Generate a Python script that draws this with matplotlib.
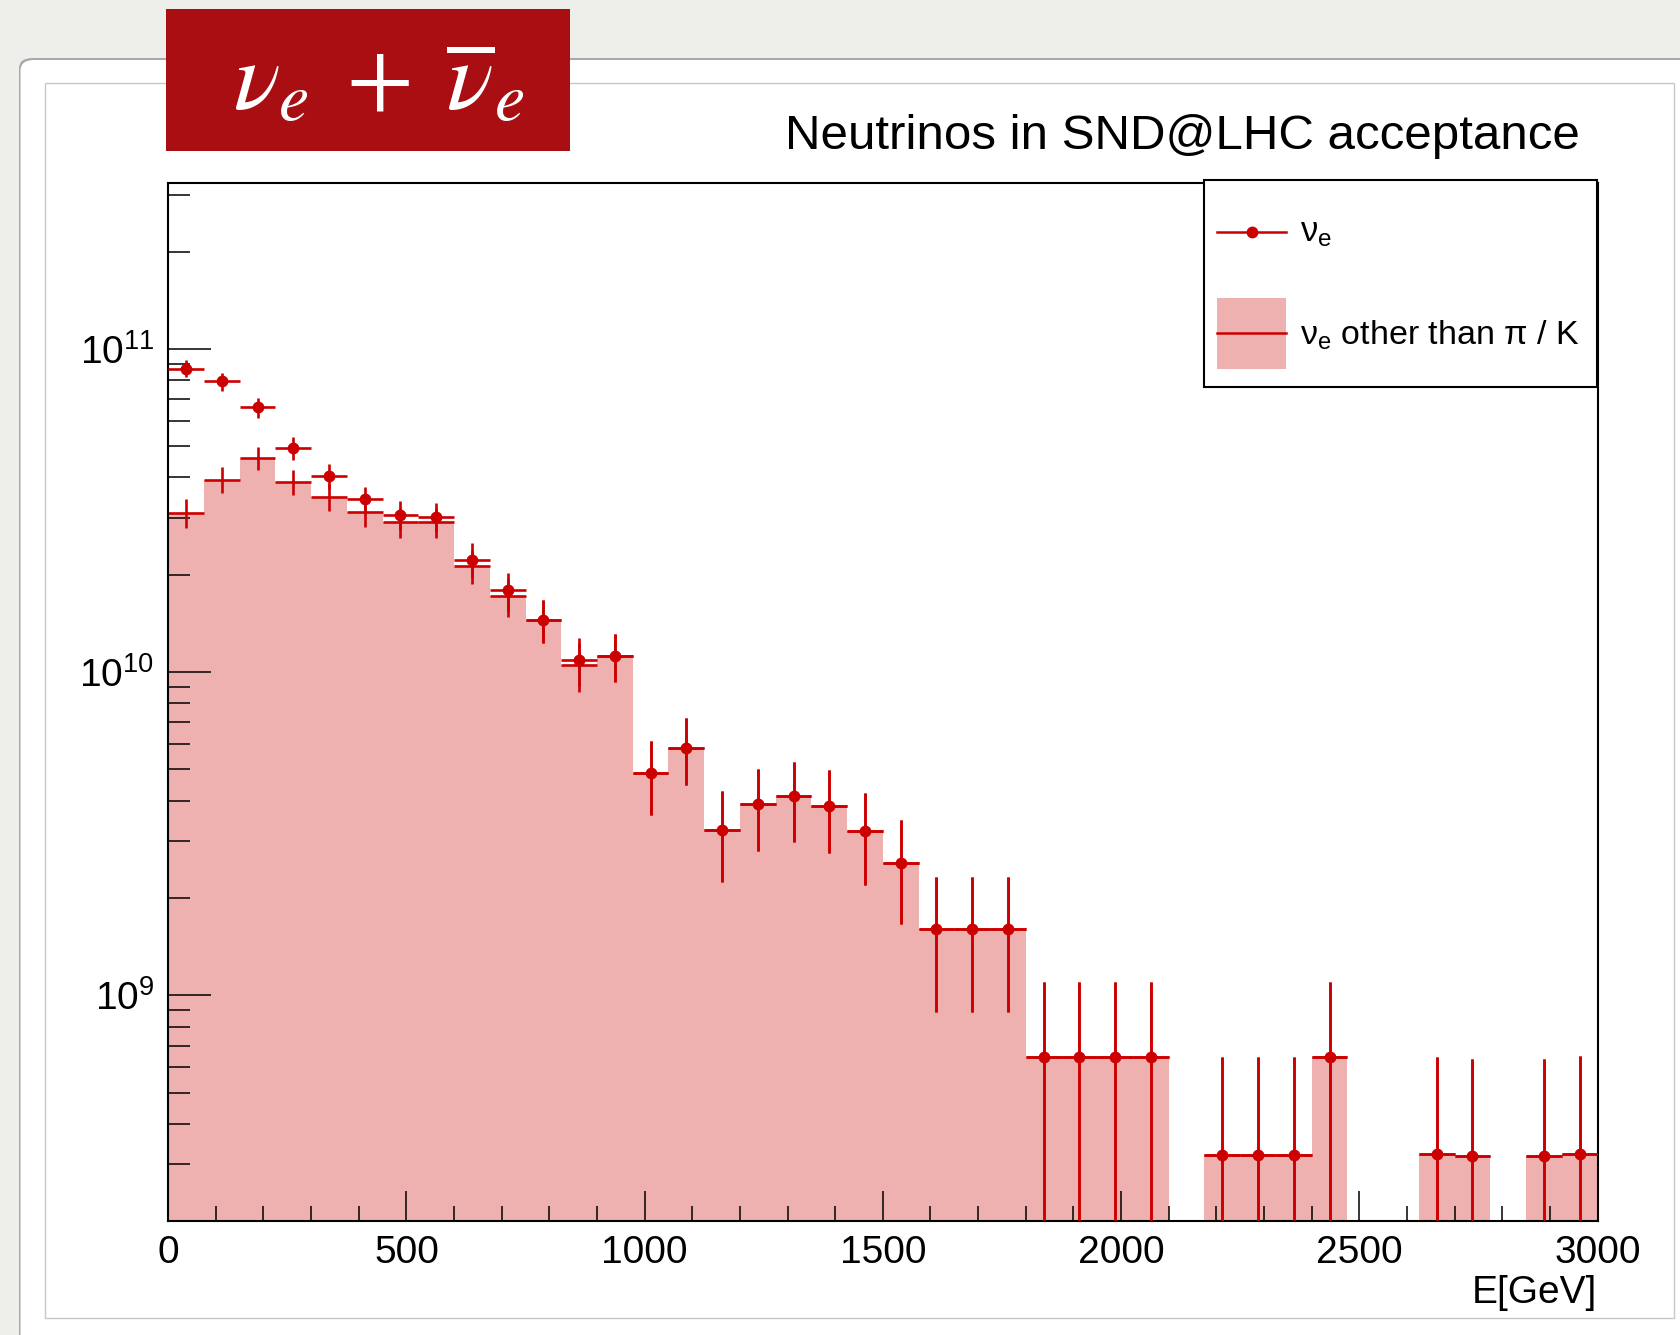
import numpy as np
import matplotlib
matplotlib.use("Agg")
import matplotlib.pyplot as plt
from matplotlib.patches import Rectangle, FancyBboxPatch
from matplotlib.lines import Line2D
from matplotlib.ticker import FixedLocator, MultipleLocator, LogLocator, NullFormatter, LogFormatterSciNotation

plt.rcParams['font.family'] = ['Liberation Sans', 'DejaVu Sans']
plt.rcParams['mathtext.fontset'] = 'custom'
plt.rcParams['mathtext.rm'] = 'Liberation Sans'
plt.rcParams['mathtext.it'] = 'Liberation Sans:italic'
plt.rcParams['mathtext.bf'] = 'Liberation Sans:bold'

# ---------------- data ----------------
bin_edges = np.arange(0, 3001, 75)  # 40 bins of 75 GeV

nu_e_total = [8.69e10, 7.93e10, 6.59e10, 4.93e10, 4.05e10, 3.42e10, 3.07e10, 3.02e10, 2.23e10, 1.79e10,
              1.45e10, 1.09e10, 1.12e10, 4.86e9, 5.84e9, 3.26e9, 3.91e9, 4.14e9, 3.86e9, 3.22e9,
              2.57e9, 1.61e9, 1.61e9, 1.61e9, 6.45e8, 6.45e8, 6.45e8, 6.45e8, 0.0, 3.22e8,
              3.22e8, 3.22e8, 6.45e8, 0.0, 0.0, 3.23e8, 3.19e8, 0.0, 3.19e8, 3.24e8]
nu_e_total_err = [5.3e9, 5.05e9, 4.6e9, 4.0e9, 3.6e9, 3.3e9, 3.15e9, 3.1e9, 2.7e9, 2.4e9,
                  2.16e9, 1.87e9, 1.9e9, 1.25e9, 1.37e9, 1.02e9, 1.12e9, 1.15e9, 1.11e9, 1.02e9,
                  0.91e9, 0.72e9, 0.72e9, 0.72e9, 4.55e8, 4.55e8, 4.55e8, 4.55e8, 0.0, 3.22e8,
                  3.22e8, 3.22e8, 4.55e8, 0.0, 0.0, 3.23e8, 3.19e8, 0.0, 3.19e8, 3.24e8]

nu_e_other = [3.11e10, 3.94e10, 4.59e10, 3.88e10, 3.49e10, 3.13e10, 2.91e10, 2.91e10, 2.13e10, 1.72e10,
              1.45e10, 1.05e10, 1.12e10, 4.86e9, 5.84e9, 3.26e9, 3.91e9, 4.14e9, 3.86e9, 3.22e9,
              2.57e9, 1.61e9, 1.61e9, 1.61e9, 6.45e8, 6.45e8, 6.45e8, 6.45e8, 0.0, 3.22e8,
              3.22e8, 3.22e8, 6.45e8, 0.0, 0.0, 3.23e8, 3.19e8, 0.0, 3.19e8, 3.24e8]
nu_e_other_err = [3.16e9, 3.56e9, 3.84e9, 3.53e9, 3.35e9, 3.17e9, 3.06e9, 3.06e9, 2.62e9, 2.35e9,
                  2.16e9, 1.84e9, 1.9e9, 1.25e9, 1.37e9, 1.02e9, 1.12e9, 1.15e9, 1.11e9, 1.02e9,
                  0.91e9, 0.72e9, 0.72e9, 0.72e9, 4.55e8, 4.55e8, 4.55e8, 4.55e8, 0.0, 3.22e8,
                  3.22e8, 3.22e8, 4.55e8, 0.0, 0.0, 3.23e8, 3.19e8, 0.0, 3.19e8, 3.24e8]

x_ticks = [0, 500, 1000, 1500, 2000, 2500, 3000]
y_ticks = [1e9, 1e10, 1e11]

title_text = "Neutrinos in SND@LHC acceptance"
xlabel_text = "E[GeV]"
legend_labels = [r"$\mathrm{\nu_e}$", r"$\mathrm{\nu_e}$ other than $\mathrm{\pi}$ / K"]
badge_text = r"$\nu_e\;+\;\overline{\nu}_e$"

# ---------------- style ----------------
RED = "#CC0000"
PINK = "#EFB1AF"
BADGE = "#A80E12"
W, H = 1680, 1335

def fx(x):
    return x / W

def fy(y):
    return 1 - y / H

fig = plt.figure(figsize=(W / 100, H / 100), dpi=100)
fig.patch.set_facecolor("#EEEEEA")

# white slide panel with shadow
shadow = FancyBboxPatch((fx(19), fy(1400)), fx(1700), fy(58) - fy(1400),
                        boxstyle="round,pad=0,rounding_size=0.008",
                        transform=fig.transFigure, facecolor="#A8A8A8", edgecolor="none", zorder=-12)
fig.add_artist(shadow)
panel = FancyBboxPatch((fx(20.5), fy(1400)), fx(1700), fy(60) - fy(1400),
                       boxstyle="round,pad=0,rounding_size=0.008",
                       transform=fig.transFigure, facecolor="white", edgecolor="none", zorder=-11)
fig.add_artist(panel)
inner = Rectangle((fx(45), fy(1318)), fx(1674) - fx(45), fy(83) - fy(1318),
                  transform=fig.transFigure, facecolor="white", edgecolor="#C8C8C8", lw=1.0, zorder=-10)
fig.add_artist(inner)

# ---------------- axes ----------------
ax_l, ax_r, ax_t, ax_b = 168.2, 1597.5, 182.5, 1221.4
ax = fig.add_axes([fx(ax_l), fy(ax_b), fx(ax_r) - fx(ax_l), fy(ax_t) - fy(ax_b)])
ax.set_facecolor("white")

edges = np.array(bin_edges, dtype=float)
centers = 0.5 * (edges[:-1] + edges[1:])
half = 0.5 * (edges[1] - edges[0])
tot = np.array(nu_e_total)
tot_e = np.array(nu_e_total_err)
oth = np.array(nu_e_other)
oth_e = np.array(nu_e_other_err)

ax.set_yscale("log")
ax.bar(edges[:-1], oth, width=np.diff(edges), align="edge", color=PINK, linewidth=0, zorder=1)

m = oth > 0
ax.errorbar(centers[m], oth[m], xerr=half, yerr=oth_e[m], fmt="none", ecolor=RED,
            elinewidth=1.9, capsize=0, zorder=2)
m2 = tot > 0
ax.errorbar(centers[m2], tot[m2], xerr=half, yerr=tot_e[m2], fmt="o", color=RED, ms=7.5,
            elinewidth=1.9, capsize=0, zorder=3)

ax.set_xlim(0, 3000)
ax.set_ylim(2.0e8, 3.27e11)

ax.xaxis.set_major_locator(FixedLocator(x_ticks))
ax.xaxis.set_minor_locator(MultipleLocator(100))
ax.yaxis.set_major_locator(FixedLocator(y_ticks))
ax.yaxis.set_minor_locator(LogLocator(base=10, subs=np.arange(2, 10)))
ax.yaxis.set_major_formatter(LogFormatterSciNotation())
ax.yaxis.set_minor_formatter(NullFormatter())

ax.tick_params(axis="both", which="both", direction="in", top=False, right=False, colors="black",
               labelsize=28, width=1.1)
ax.tick_params(axis="x", which="major", length=21.5, pad=10)
ax.tick_params(axis="x", which="minor", length=10.8)
ax.tick_params(axis="y", which="major", length=31, pad=10)
ax.tick_params(axis="y", which="minor", length=16)
for s in ax.spines.values():
    s.set_linewidth(1.5)
    s.set_color("black")

fig.text(fx(1597), fy(1303), xlabel_text, ha="right", va="baseline", fontsize=28)

# title
fig.text(fx(1580), fy(149), title_text, ha="right", va="baseline", fontsize=35.5)

# badge
badge = Rectangle((fx(166), fy(151)), fx(570) - fx(166), fy(9) - fy(151), transform=fig.transFigure,
                  facecolor=BADGE, edgecolor="none", zorder=5)
fig.add_artist(badge)
fig.text(fx(379), fy(84), badge_text, ha="center", va="center", fontsize=70, color="white",
         math_fontfamily="stix", zorder=6)

# legend (manual, ROOT TLegend style)
leg = Rectangle((fx(1204), fy(387)), fx(1597) - fx(1204), fy(180) - fy(387), transform=fig.transFigure,
                facecolor="white", edgecolor="black", lw=1.5, zorder=10)
fig.add_artist(leg)
fig.add_artist(Line2D([fx(1217), fx(1286)], [fy(231.7), fy(231.7)], color=RED, lw=1.8,
                      transform=fig.transFigure, zorder=11))
fig.add_artist(Line2D([fx(1252)], [fy(231.7)], color=RED, marker="o", ms=7.5, lw=0,
                      transform=fig.transFigure, zorder=12))
fig.text(fx(1300), fy(241.5), legend_labels[0], ha="left", va="baseline", fontsize=25, zorder=12)
fig.add_artist(Rectangle((fx(1217), fy(369)), fx(1286) - fx(1217), fy(298) - fy(369),
                         transform=fig.transFigure, facecolor=PINK, edgecolor="none", zorder=11))
fig.add_artist(Line2D([fx(1217), fx(1286)], [fy(333.3), fy(333.3)], color=RED, lw=1.8,
                      transform=fig.transFigure, zorder=12))
fig.text(fx(1300), fy(345), legend_labels[1], ha="left", va="baseline", fontsize=24.5, zorder=12)

fig.savefig("out.png", dpi=100, facecolor=fig.get_facecolor())
